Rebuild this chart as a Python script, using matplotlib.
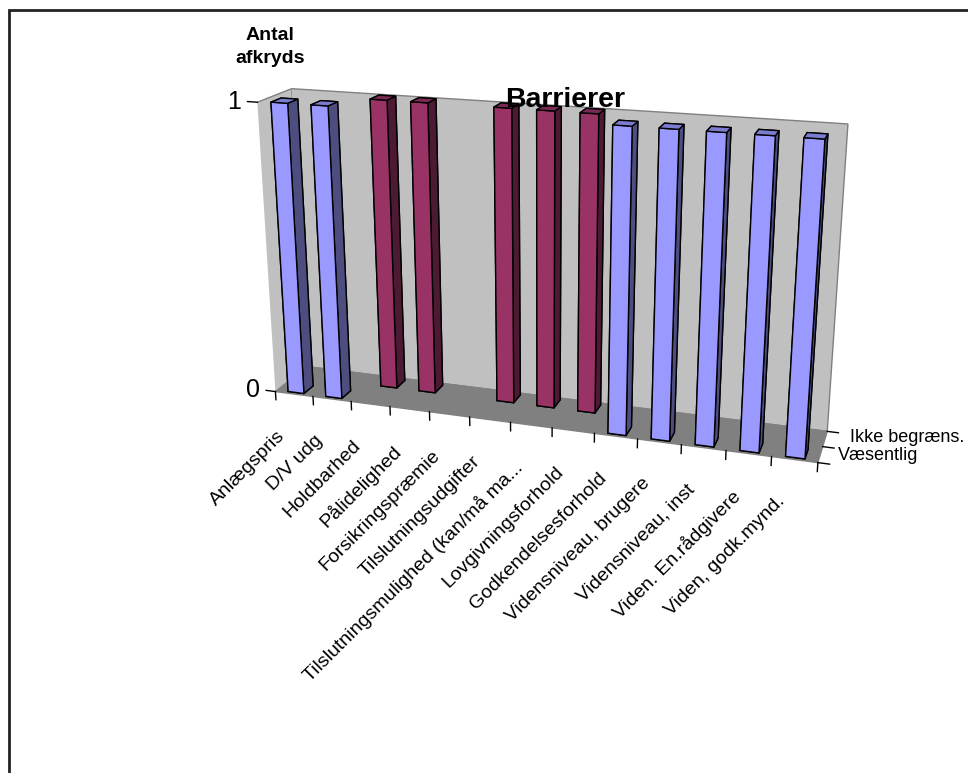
import matplotlib
matplotlib.use("Agg")
import matplotlib.pyplot as plt
from matplotlib.patches import Rectangle
from mpl_toolkits.mplot3d import proj3d

# Chart data
categories = [
    "Anlægspris", "D/V udg", "Holdbarhed", "Pålidelighed", "Forsikringspræmie",
    "Tilslutningsudgifter", "Tilslutningsmulighed (kan/må ma...", "Lovgivningsforhold",
    "Godkendelsesforhold", "Vidensniveau, brugere", "Vidensniveau, inst",
    "Viden. En.rådgivere", "Viden, godk.mynd.",
]
series_names = ["Væsentlig", "Ikke begræns."]
vaesentlig = [1, 1, 0, 0, 0, 0, 0, 0, 1, 1, 1, 1, 1]
ikke_begraens = [0, 0, 1, 1, 0, 1, 1, 1, 0, 0, 0, 0, 0]
value_ticks = [0, 1]

series_values = [vaesentlig, ikke_begraens]
# front, top and side shades for each series
series_faces = [
    ("#9999FF", "#7B7BD0", "#4D4D80"),
    ("#993366", "#7A2952", "#4D1A33"),
]

plt.rcParams["font.family"] = ["Liberation Sans", "DejaVu Sans"]

W, H = 968, 773
fig = plt.figure(figsize=(W / 100, H / 100), dpi=100)
ax = fig.add_axes([0.05, 0.167, 1.0, 0.95], projection="3d")
ax.view_init(elev=18, azim=-72.5)
ax.set_proj_type("persp", focal_length=0.36)

n = len(categories)
y_lo, y_hi = -0.35, 1.35
ax.set_xlim(0, n)
ax.set_ylim(y_lo, y_hi)
ax.set_zlim(0, 1)
ax.set_box_aspect((7.7, 1.0, 4.2), zoom=0.87)

# walls and floor
wall = "#C0C0C0"
ax.xaxis.set_pane_color(wall)
ax.yaxis.set_pane_color(wall)
ax.zaxis.set_pane_color("#808080")
for axis in (ax.xaxis, ax.yaxis, ax.zaxis):
    axis.pane.set_edgecolor("#808080")
    axis.pane.set_linewidth(1.0)
    axis.line.set_linewidth(0)
    axis.set_ticks([])
ax.grid(False)

# bars
dx, dy = 0.42, 0.5
bx, by, bdz, bcol = [], [], [], []
for row, (vals, (front, top, side)) in enumerate(zip(series_values, series_faces)):
    for i, v in enumerate(vals):
        if v <= 0:
            continue
        bx.append(i + 0.5 - dx / 2)
        by.append(row - dy / 2)
        bdz.append(v)
        # faces: -z, +z, -y, +y, -x, +x
        bcol.extend([front, top, front, front, front, side])
ax.bar3d(bx, by, [0] * len(bx), dx, dy, bdz, color=bcol, shade=False,
         edgecolor="black", linewidth=1.0)

# axis tick marks
for i in range(n + 1):
    ax.plot([i, i], [y_lo, y_lo], [0, -0.03], color="black", lw=1)
for v in value_ticks:
    ax.plot([0, -0.25], [y_lo, y_lo], [v, v], color="black", lw=1)
for yv in (y_lo, 0.5, y_hi):
    ax.plot([n, n + 0.25], [yv, yv], [0, 0], color="black", lw=1)

# tick labels are placed in screen space at the projected 3D anchor points
fig.canvas.draw()
M = ax.get_proj()


def screen(x, y, z):
    xp, yp, _ = proj3d.proj_transform(x, y, z, M)
    px, py = ax.transData.transform((xp, yp))
    return px, py


def fig_text(px, py, s, **kw):
    fig.text(px / W, py / H, s, **kw)


for i, cat in enumerate(categories):
    px, py = screen(i + 0.5, y_lo, 0)
    fig_text(px - 18, py - 33, cat, rotation=45, ha="right", va="top",
             rotation_mode="anchor", fontsize=14)

for v in value_ticks:
    px, py = screen(-0.25, y_lo, v)
    fig_text(px - 6, py, str(v), ha="right", va="center", fontsize=18)

for row, name in enumerate(series_names):
    px, py = screen(n, row, 0)
    fig_text(px + 18 + 7 * row, py, name, ha="left", va="center", fontsize=13)

fig.text(565 / W, 1 - 100 / H, "Barrierer", ha="center", va="center",
         fontsize=20.5, fontweight="bold")
fig.text(270 / W, 1 - 47 / H, "Antal\nafkryds", ha="center", va="center",
         fontsize=14, fontweight="bold", linespacing=1.45)

fig.patches.append(Rectangle((9 / W, -0.2), 1.5, 1.2 - 10 / H,
                             transform=fig.transFigure, fill=False,
                             edgecolor="#222222", linewidth=2))

fig.savefig("out.png", dpi=100)
